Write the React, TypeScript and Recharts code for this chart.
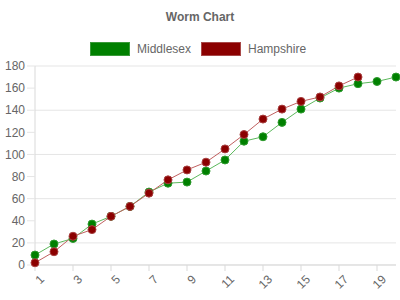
import React from 'react';
import { LineChart, Line, XAxis, YAxis, CartesianGrid } from 'recharts';

const categories = [1, 2, 3, 4, 5, 6, 7, 8, 9, 10, 11, 12, 13, 14, 15, 16, 17, 18, 19, 20];
const middlesex = [9, 19, 24, 37, 44, 53, 66, 74, 75, 85, 95, 112, 116, 129, 141, 151, 160, 164, 166, 170];
const hampshire = [2, 12, 26, 32, 44, 53, 65, 77, 86, 93, 105, 118, 132, 141, 148, 152, 162, 170];
const xTicks = [1, 3, 5, 7, 9, 11, 13, 15, 17, 19];
const yTicks = [0, 20, 40, 60, 80, 100, 120, 140, 160, 180];

const data = categories.map((c, i) => ({
  x: c,
  Middlesex: middlesex[i] ?? null,
  Hampshire: hampshire[i] ?? null,
}));

const FONT = '"Liberation Sans", Arial, Helvetica, sans-serif';

const legendItems = [
  { name: 'Middlesex', fill: '#008000', border: '#3a9a3a' },
  { name: 'Hampshire', fill: '#8b0000', border: '#a84848' },
];

export default function App() {
  return (
    <div style={{ position: 'absolute', left: 0, top: 0, width: 400, height: 300, background: '#fff' }}>
      <div style={{ position: 'absolute', left: 0, top: 10, width: 400, textAlign: 'center', fontFamily: FONT, fontSize: 12, fontWeight: 'bold', color: '#666' }}>
        Worm Chart
      </div>
      <div style={{ position: 'absolute', left: 90, top: 42, display: 'flex', fontFamily: FONT, fontSize: 12, color: '#666' }}>
        {legendItems.map((s) => (
          <div key={s.name} style={{ display: 'flex', alignItems: 'center', marginRight: 10, height: 14 }}>
            <div style={{ width: 38, height: 12, background: s.fill, border: `1px solid ${s.border}`, marginRight: 7 }} />
            <span>{s.name}</span>
          </div>
        ))}
      </div>
      <LineChart width={400} height={300} data={data} margin={{ top: 66, right: 4, bottom: 0, left: 0 }}>
        <CartesianGrid stroke="#e5e5e5" vertical={false} />
        <XAxis
          dataKey="x"
          type="number"
          domain={[1, 20]}
          ticks={xTicks}
          interval={0}
          height={35}
          axisLine={{ stroke: '#d9d9d9' }}
          tickLine={{ stroke: '#d9d9d9' }}
          tickSize={6}
          tickMargin={3}
          angle={-45}
          textAnchor="end"
          dx={4}
          tick={{ fill: '#666', fontSize: 12, fontFamily: FONT }}
        />
        <YAxis
          domain={[0, 180]}
          ticks={yTicks}
          width={35}
          axisLine={{ stroke: '#d9d9d9' }}
          tickLine={{ stroke: '#e5e5e5' }}
          tickSize={8}
          tickMargin={2}
          tick={{ fill: '#666', fontSize: 12, fontFamily: FONT }}
        />
        <Line
          dataKey="Middlesex"
          stroke="#5cb85c"
          strokeWidth={1}
          dot={{ r: 4, fill: '#008000', stroke: '#2e9a2e', strokeWidth: 1 }}
          isAnimationActive={false}
          connectNulls={false}
        />
        <Line
          dataKey="Hampshire"
          stroke="#c06060"
          strokeWidth={1}
          dot={{ r: 4, fill: '#8b0000', stroke: '#a84040', strokeWidth: 1 }}
          isAnimationActive={false}
          connectNulls={false}
        />
      </LineChart>
    </div>
  );
}
